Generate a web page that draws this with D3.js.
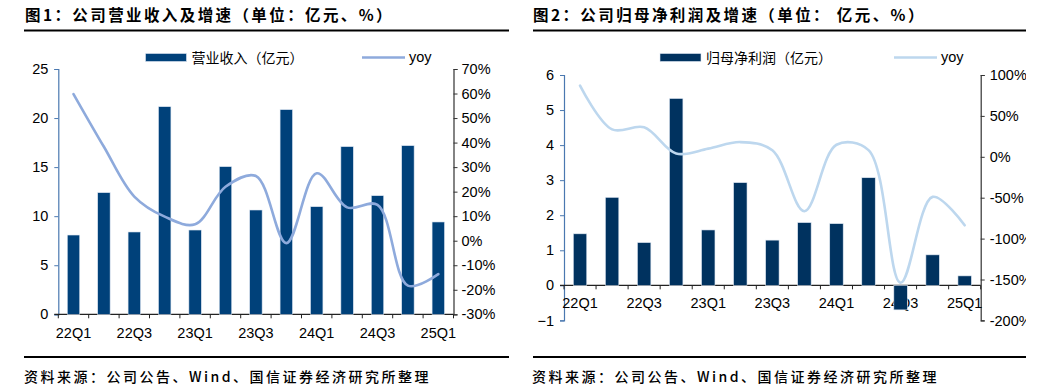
<!DOCTYPE html>
<html>
<head>
<meta charset="utf-8">
<script src="https://cdn.jsdelivr.net/npm/d3@7"></script>
<style>
  html, body { margin: 0; padding: 0; background: #fff; }
  svg { display: block; }
  text { font-family: "Liberation Sans", Arial, "Noto Sans CJK SC", sans-serif; }
  .cjk { font-family: "Noto Sans CJK SC", sans-serif; }
</style>
</head>
<body>
<svg id="chart" width="1046" height="392"></svg>
<script>
// ---- Data ----
const quarters = ["22Q1","22Q2","22Q3","22Q4","23Q1","23Q2","23Q3","23Q4","24Q1","24Q2","24Q3","24Q4","25Q1"];
const revenue = [8.08, 12.4, 8.39, 21.16, 8.59, 15.05, 10.63, 20.86, 10.97, 17.09, 12.09, 17.19, 9.41];
const revenueYoy = [59.8, 38.3, 18.0, 9.8, 6.7, 22.0, 26.4, -1.0, 27.5, 13.6, 14.6, -18.3, -13.6];
const profit = [1.47, 2.51, 1.22, 5.33, 1.58, 2.93, 1.29, 1.79, 1.76, 3.07, -0.70, 0.87, 0.27];
const profitYoy = [87, 33.5, 36, 4, 10, 18, 8, -66.5, 14.7, 8.2, -154, -49, -83.7];
const revLeftTicks = [0, 5, 10, 15, 20, 25];
const revRightTicks = [-30, -20, -10, 0, 10, 20, 30, 40, 50, 60, 70];
const profLeftTicks = [-1, 0, 1, 2, 3, 4, 5, 6];
const profRightTicks = [-200, -150, -100, -50, 0, 50, 100];
const titles = ["图1：公司营业收入及增速（单位：亿元、%）", "图2：公司归母净利润及增速（单位：  亿元、%）"];
const legendBar = ["营业收入（亿元）", "归母净利润（亿元）"];
const legendLine = "yoy";
const source = "资料来源：公司公告、Wind、国信证券经济研究所整理";

const svg = d3.select("#chart");

function panel(cfg) {
  const g = svg.append("g");
  if (cfg.clip) {
    svg.append("clipPath").attr("id", cfg.clip.id)
      .append("rect").attr("x", cfg.clip.x0).attr("y", 0).attr("width", cfg.clip.x1 - cfg.clip.x0).attr("height", 392);
    g.attr("clip-path", `url(#${cfg.clip.id})`);
  }
  // title
  g.append("text").attr("class", "cjk").attr("x", cfg.titleX).attr("y", 21)
    .attr("font-size", 15.5).attr("font-weight", 700).attr("letter-spacing", 2.4)
    .attr("fill", "#000").text(cfg.title);
  g.append("rect").attr("x", cfg.lineX0).attr("y", 29.5).attr("width", cfg.lineX1 - cfg.lineX0).attr("height", 2).attr("fill", "#000");
  // footer
  g.append("rect").attr("x", cfg.lineX0).attr("y", 356).attr("width", cfg.lineX1 - cfg.lineX0).attr("height", 2).attr("fill", "#000");
  g.append("text").attr("class", "cjk").attr("x", cfg.titleX - 1).attr("y", 382)
    .attr("font-size", 14).attr("font-weight", 500).attr("letter-spacing", 2.5)
    .attr("fill", "#000").text(source);

  const x = d3.scaleBand().domain(quarters).range([cfg.x0, cfg.x1]).paddingInner(cfg.barPad).paddingOuter(cfg.barPad / 2);
  const xc = d3.scaleBand().domain(quarters).range([cfg.x0, cfg.x1]).padding(0);
  const yL = d3.scaleLinear().domain(cfg.leftDomain).range([cfg.yBottom, cfg.yTop]);
  const yR = d3.scaleLinear().domain(cfg.rightDomain).range([cfg.yBottom, cfg.yTop]);

  // left axis
  const la = g.append("g").attr("transform", `translate(${cfg.x0},0)`)
    .call(d3.axisLeft(yL).tickValues(cfg.leftTicks).tickSize(4).tickPadding(6).tickFormat(d3.format("d")));
  la.select(".domain").attr("stroke", cfg.leftAxisColor).attr("stroke-width", 1.2);
  la.selectAll(".tick line").attr("stroke", cfg.leftAxisColor);
  la.selectAll("text").attr("font-size", 14.5).attr("fill", "#000")
    .attr("font-family", "'Liberation Sans', Arial, sans-serif");

  // right axis
  const ra = g.append("g").attr("transform", `translate(${cfg.x1},0)`)
    .call(d3.axisRight(yR).tickValues(cfg.rightTicks).tickSize(4).tickPadding(cfg.rightPad).tickFormat(d => d + "%"));
  ra.select(".domain").attr("stroke", "#333").attr("stroke-width", 1.2);
  ra.selectAll(".tick line").attr("stroke", "#333");
  ra.selectAll("text").attr("font-size", 14.5).attr("fill", "#000")
    .attr("font-family", "'Liberation Sans', Arial, sans-serif");

  // x axis (at zero)
  const y0 = yL(0);
  const xa = g.append("g").attr("transform", `translate(0,${y0})`)
    .call(d3.axisBottom(xc).tickSize(0).tickPadding(cfg.xLabelPad).tickFormat((d, i) => i % 2 === 0 ? d : ""));
  xa.select(".domain").remove();
  xa.selectAll("text").attr("font-size", 14.5).attr("fill", "#000")
    .attr("font-family", "'Liberation Sans', Arial, sans-serif");
  g.append("line").attr("x1", cfg.x0 - 4).attr("x2", cfg.x1).attr("y1", y0).attr("y2", y0)
    .attr("stroke", "#222").attr("stroke-width", 1.2);
  const bounds = quarters.map(q => xc(q)).concat([cfg.x1]);
  g.selectAll(".xtick").data(bounds).join("line")
    .attr("x1", d => d).attr("x2", d => d).attr("y1", y0).attr("y2", y0 + 4)
    .attr("stroke", "#222").attr("stroke-width", 1);

  // bars
  g.selectAll(".bar").data(cfg.bars).join("rect")
    .attr("x", (d, i) => x(quarters[i]))
    .attr("width", x.bandwidth())
    .attr("y", d => Math.min(yL(d), yL(0)))
    .attr("height", d => Math.abs(yL(d) - yL(0)))
    .attr("fill", cfg.barColor)
    .attr("stroke", "#dfe8f3").attr("stroke-width", 0.6);

  // line
  const line = d3.line()
    .x((d, i) => xc(quarters[i]) + xc.bandwidth() / 2)
    .y(d => yR(d))
    .curve(d3.curveCatmullRom.alpha(0.5));
  g.append("path").datum(cfg.yoy).attr("d", line)
    .attr("fill", "none").attr("stroke", cfg.lineColor).attr("stroke-width", 2.6)
    .attr("stroke-linejoin", "round").attr("stroke-linecap", "round");

  // legend
  g.append("rect").attr("x", cfg.legBarX).attr("y", 53.5).attr("width", 41).attr("height", 8)
    .attr("fill", cfg.barColor).attr("stroke", "#dfe8f3").attr("stroke-width", 0.6);
  g.append("text").attr("class", "cjk").attr("x", cfg.legBarX + 46).attr("y", 62.5)
    .attr("font-size", 14).attr("fill", "#000").text(cfg.legendBar);
  g.append("line").attr("x1", cfg.legLineX).attr("x2", cfg.legLineX + 43).attr("y1", 57.5).attr("y2", 57.5)
    .attr("stroke", cfg.lineColor).attr("stroke-width", 2.6);
  g.append("text").attr("x", cfg.legLineX + 47).attr("y", 62)
    .attr("font-size", 14.5).attr("fill", "#000").text(legendLine);
}

panel({
  title: titles[0], titleX: 25, lineX0: 24, lineX1: 509,
  x0: 58.3, x1: 453.5, yTop: 69, yBottom: 314.3,
  leftDomain: [0, 25], rightDomain: [-30, 70],
  leftTicks: revLeftTicks, rightTicks: revRightTicks,
  bars: revenue, yoy: revenueYoy, barPad: 0.59,
  barColor: "#00417a", lineColor: "#8eaadc", leftAxisColor: "#4a78b0",
  rightPad: 4, xLabelPad: 13,
  legendBar: legendBar[0], legBarX: 145.5, legLineX: 362
});

panel({
  title: titles[1], titleX: 533, lineX0: 533, lineX1: 1026,
  x0: 564, x1: 980.7, yTop: 75, yBottom: 320.4,
  leftDomain: [-1, 6], rightDomain: [-200, 100],
  leftTicks: profLeftTicks, rightTicks: profRightTicks,
  bars: profit, yoy: profitYoy, barPad: 0.58,
  barColor: "#00325f", lineColor: "#bdd7ee", leftAxisColor: "#4a78b0",
  rightPad: 5, xLabelPad: 12,
  legendBar: legendBar[1], legBarX: 660, legLineX: 894,
  clip: { id: "clip2", x0: 525, x1: 1026 }
});
</script>
</body>
</html>
